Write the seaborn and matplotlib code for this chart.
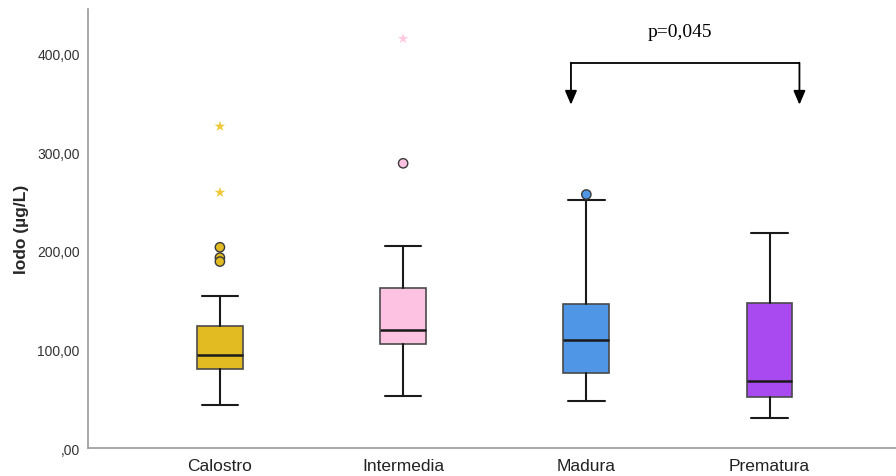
import matplotlib
matplotlib.use("Agg")
import matplotlib.pyplot as plt
import seaborn as sns
import pandas as pd

# Iodine concentration in breast milk by milk stage (summary statistics, µg/L)
categories = ["Calostro", "Intermedia", "Madura", "Prematura"]
q1 = [80.0, 105.0, 76.0, 52.0]
median = [94.0, 120.0, 109.0, 68.0]
q3 = [123.5, 161.7, 146.0, 147.0]
whisker_low = [43.5, 52.3, 48.0, 30.0]
whisker_high = [154.0, 204.5, 251.0, 218.4]

# outliers (circles) and extreme values (stars)
outlier_group = ["Calostro", "Calostro", "Calostro", "Intermedia", "Madura"]
outlier_value = [203.5, 193.0, 189.0, 288.6, 257.0]
extreme_group = ["Calostro", "Calostro", "Intermedia"]
extreme_value = [326.0, 259.0, 415.0]

y_ticks = [0, 100, 200, 300, 400]
y_tick_labels = [",00", "100,00", "200,00", "300,00", "400,00"]
p_label = "p=0,045"

colors = ["#E1BB21", "#FDC2E1", "#5096E6", "#A84AF0"]
star_colors = ["#EFC93A", "#FFC9DF", "#5096E6", "#A84AF0"]

sns.set_theme(style="white")
plt.rcParams["font.family"] = ["Liberation Sans", "DejaVu Sans"]

fig = plt.figure(figsize=(8.96, 4.77), dpi=100)
ax = fig.add_axes([0.0982, 0.0587, 0.9018, 0.9203])

stats = []
for i, c in enumerate(categories):
    stats.append(dict(label=c, med=median[i], q1=q1[i], q3=q3[i],
                      whislo=whisker_low[i], whishi=whisker_high[i], fliers=[]))

pos = list(range(len(categories)))
bp = ax.bxp(stats, positions=pos, widths=0.25, patch_artist=True,
            showfliers=False,
            boxprops=dict(edgecolor="#4a4a4a", linewidth=1.2),
            medianprops=dict(color="#1a1a1a", linewidth=1.8),
            whiskerprops=dict(color="#1a1a1a", linewidth=1.5),
            capprops=dict(color="#1a1a1a", linewidth=1.5),
            capwidths=0.2)
for patch, col in zip(bp["boxes"], colors):
    patch.set_facecolor(col)

cat_index = {c: i for i, c in enumerate(categories)}
out_df = pd.DataFrame({"x": [cat_index[g] for g in outlier_group],
                       "y": outlier_value, "g": outlier_group})
ext_df = pd.DataFrame({"x": [cat_index[g] for g in extreme_group],
                       "y": extreme_value, "g": extreme_group})

sns.scatterplot(data=out_df, x="x", y="y", hue="g",
                palette={c: colors[i] for i, c in enumerate(categories)},
                marker="o", s=45, edgecolor="#3a3a3a", linewidth=1.0,
                legend=False, ax=ax, zorder=4)
sns.scatterplot(data=ext_df, x="x", y="y", hue="g",
                palette={c: star_colors[i] for i, c in enumerate(categories)},
                marker="*", s=65, edgecolor="none", linewidth=0,
                legend=False, ax=ax, zorder=4)

ax.set_xlim(-0.72, 3.69)
ax.set_ylim(0, 445)
ax.set_xticks(pos)
ax.set_xticklabels(categories, fontsize=12.5, color="#222222")
ax.set_yticks(y_ticks)
ax.set_yticklabels(y_tick_labels, fontsize=10, color="#333333")
ax.tick_params(axis="both", length=0)
ax.tick_params(axis="x", pad=7)
ax.tick_params(axis="y", pad=6)
ax.set_xlabel("")
ax.set_ylabel("Iodo (µg/L)", fontsize=12.5, fontweight="bold", labelpad=6)

for s in ["top", "right"]:
    ax.spines[s].set_visible(False)
for s in ["left", "bottom"]:
    ax.spines[s].set_color("#9a9a9a")
    ax.spines[s].set_linewidth(1.2)

# significance bracket between Madura and Prematura
xl, xr = 1.916, 3.163
yb, yt = 390.6, 348.0
ax.plot([xl, xr], [yb, yb], color="black", linewidth=1.3, clip_on=False)
for x in (xl, xr):
    ax.annotate("", xy=(x, yt), xytext=(x, yb),
                arrowprops=dict(arrowstyle="-|>,head_length=0.7,head_width=0.3",
                                color="black", linewidth=1.3,
                                shrinkA=0, shrinkB=0))
ax.text((xl + xr) / 2 - 0.03, 422.5, p_label, ha="center", va="center",
        fontsize=14, family=["Liberation Serif"], color="black")

fig.savefig("out.png", dpi=100)
